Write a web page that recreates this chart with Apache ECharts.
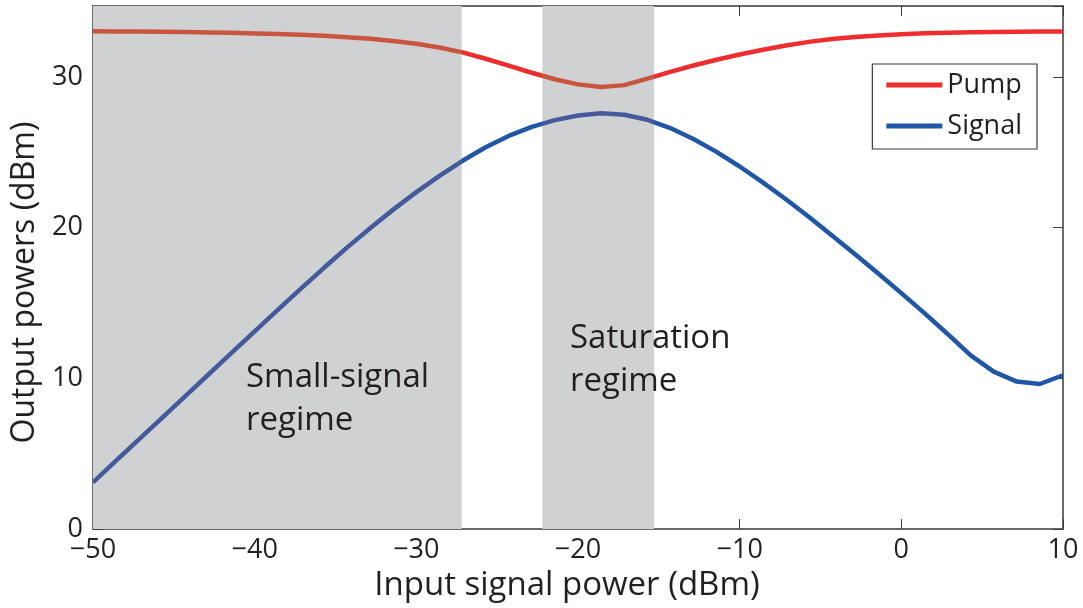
<!DOCTYPE html>
<html>
<head>
<meta charset="utf-8">
<script src="https://cdn.jsdelivr.net/npm/echarts@6/dist/echarts.min.js"></script>
<style>
  html, body { margin: 0; padding: 0; background: #fff; }
  #chart { width: 1083px; height: 608px; }
</style>
</head>
<body>
<div id="chart"></div>
<script>
// Input signal power (dBm), sample points of the simulation
const inputPower = [
  -50, -48.57, -47.14, -45.71, -44.29, -42.86, -41.43, -40, -38.57, -37.14,
  -35.71, -34.29, -32.86, -31.43, -30, -28.57, -27.14, -25.71, -24.29, -22.86,
  -21.43, -20, -18.57, -17.14, -15.71, -14.29, -12.86, -11.43, -10, -8.57,
  -7.14, -5.71, -4.29, -2.86, -1.43, 0, 1.43, 2.86, 4.29, 5.71,
  7.14, 8.57, 10
];

// Output pump power (dBm)
const pumpOut = [
  33.02, 33.01, 33.0, 32.99, 32.97, 32.95, 32.92, 32.88, 32.84, 32.79,
  32.72, 32.63, 32.52, 32.38, 32.2, 31.95, 31.62, 31.2, 30.74, 30.27,
  29.84, 29.5, 29.33, 29.45, 29.88, 30.33, 30.75, 31.13, 31.48, 31.8,
  32.08, 32.32, 32.51, 32.65, 32.75, 32.83, 32.89, 32.93, 32.96, 32.98,
  32.99, 33.0, 33.0
];

// Output signal power (dBm)
const signalOut = [
  3.1, 4.53, 5.96, 7.39, 8.82, 10.25, 11.68, 13.11, 14.54, 15.95,
  17.33, 18.67, 19.96, 21.19, 22.35, 23.43, 24.43, 25.33, 26.08, 26.68,
  27.13, 27.43, 27.58, 27.48, 27.15, 26.6, 25.88, 25.02, 24.05, 23.0,
  21.88, 20.7, 19.48, 18.23, 16.95, 15.65, 14.32, 12.94, 11.52, 10.44,
  9.78, 9.62, 10.2
];

// Operating regimes shaded on the plot: [from, to] in dBm
const shadedRegions = [[-50, -27.2], [-22.2, -15.3]];
const regimeLabels = ['Small-signal\nregime', 'Saturation\nregime'];

const xTicks = [-50, -40, -30, -20, -10, 0, 10];
const yTicks = [0, 10, 20, 30];

const FONT = '"Open Sans", "Noto Sans", sans-serif';
const TEXT = '#231f20';
const FRAME = '#3a3a3a';
const SHADE = '#d0d1d3';

const PUMP = '#ee2e2e', PUMP_SHADED = '#c9553f';
const SIG = '#1f56a6', SIG_SHADED = '#455a9a';

const fmt = v => (v < 0 ? '\u2212' + Math.abs(v) : String(v));

// Line colour switches where it crosses a shaded band
function bandPieces(outside, inside) {
  const pieces = [];
  let prev = null;
  shadedRegions.forEach(([a, b]) => {
    if (prev !== null && a > prev) pieces.push({ gte: prev, lt: a, color: outside });
    pieces.push({ gte: a, lt: b, color: inside });
    prev = b;
  });
  pieces.push({ gte: prev, lte: xTicks[xTicks.length - 1], color: outside });
  return pieces;
}

const pumpData = inputPower.map((x, i) => [x, pumpOut[i]]);
const signalData = inputPower.map((x, i) => [x, signalOut[i]]);

const chart = echarts.init(document.getElementById('chart'), null, { renderer: 'canvas' });

const axisCommon = {
  axisLine: { show: true, onZero: false, lineStyle: { color: FRAME, width: 1.5 } },
  axisTick: { show: true, inside: true, length: 10, lineStyle: { color: FRAME, width: 1 } },
  splitLine: { show: false }
};

chart.setOption({
  animation: false,
  backgroundColor: '#fff',
  grid: { left: 93, right: 20, top: 6, bottom: 79 },
  xAxis: [
    Object.assign({
      type: 'value', min: xTicks[0], max: xTicks[xTicks.length - 1], interval: 10,
      position: 'bottom',
      name: 'Input signal power (dBm)', nameLocation: 'middle', nameGap: 38,
      nameTextStyle: { fontFamily: FONT, fontSize: 33, color: TEXT, padding: [0, 22, 0, 0] },
      axisLabel: { formatter: fmt, fontFamily: FONT, fontSize: 27, color: TEXT, margin: 8 }
    }, axisCommon),
    Object.assign({
      type: 'value', min: xTicks[0], max: xTicks[xTicks.length - 1], interval: 10,
      position: 'top', axisLabel: { show: false }
    }, axisCommon)
  ],
  yAxis: [
    Object.assign({
      type: 'value', min: 0, max: 34.7, interval: 10,
      position: 'left',
      name: 'Output powers (dBm)', nameLocation: 'middle', nameGap: 45,
      nameTextStyle: { fontFamily: FONT, fontSize: 32, color: TEXT, padding: [0, 30, 0, 0] },
      axisLabel: { formatter: fmt, fontFamily: FONT, fontSize: 27, color: TEXT, margin: 10, showMaxLabel: false }
    }, axisCommon),
    Object.assign({
      type: 'value', min: 0, max: 34.7, interval: 10,
      position: 'right', axisLabel: { show: false }
    }, axisCommon)
  ],
  legend: {
    orient: 'vertical', right: 46, top: 64,
    backgroundColor: '#fff', borderColor: FRAME, borderWidth: 1.2,
    padding: [6, 15, 8, 14], itemGap: 11,
    itemWidth: 56, itemHeight: 5, icon: 'rect',
    textStyle: { fontFamily: FONT, fontSize: 27, color: TEXT, lineHeight: 30 },
    data: [
      { name: 'Pump', itemStyle: { color: PUMP } },
      { name: 'Signal', itemStyle: { color: SIG } }
    ]
  },
  visualMap: [
    { show: false, type: 'piecewise', seriesIndex: 1, dimension: 0, pieces: bandPieces(PUMP, PUMP_SHADED) },
    { show: false, type: 'piecewise', seriesIndex: 2, dimension: 0, pieces: bandPieces(SIG, SIG_SHADED) }
  ],
  series: [
    {
      name: 'regimes', type: 'line', data: [], z: 1, silent: true,
      markArea: {
        silent: true,
        itemStyle: { color: SHADE },
        data: shadedRegions.map(([a, b]) => [{ xAxis: a }, { xAxis: b }])
      }
    },
    {
      name: 'Pump', type: 'line', data: pumpData, z: 3,
      showSymbol: false, smooth: false,
      lineStyle: { width: 4.5 }
    },
    {
      name: 'Signal', type: 'line', data: signalData, z: 3,
      showSymbol: false, smooth: false,
      lineStyle: { width: 4.5 }
    }
  ],
  graphic: [
    {
      type: 'text', left: 246, top: 356, z: 10,
      style: { text: regimeLabels[0], fontFamily: FONT, fontSize: 33, lineHeight: 43, fill: TEXT }
    },
    {
      type: 'text', left: 570, top: 317, z: 10,
      style: { text: regimeLabels[1], fontFamily: FONT, fontSize: 33, lineHeight: 43, fill: TEXT }
    }
  ]
});
</script>
</body>
</html>
